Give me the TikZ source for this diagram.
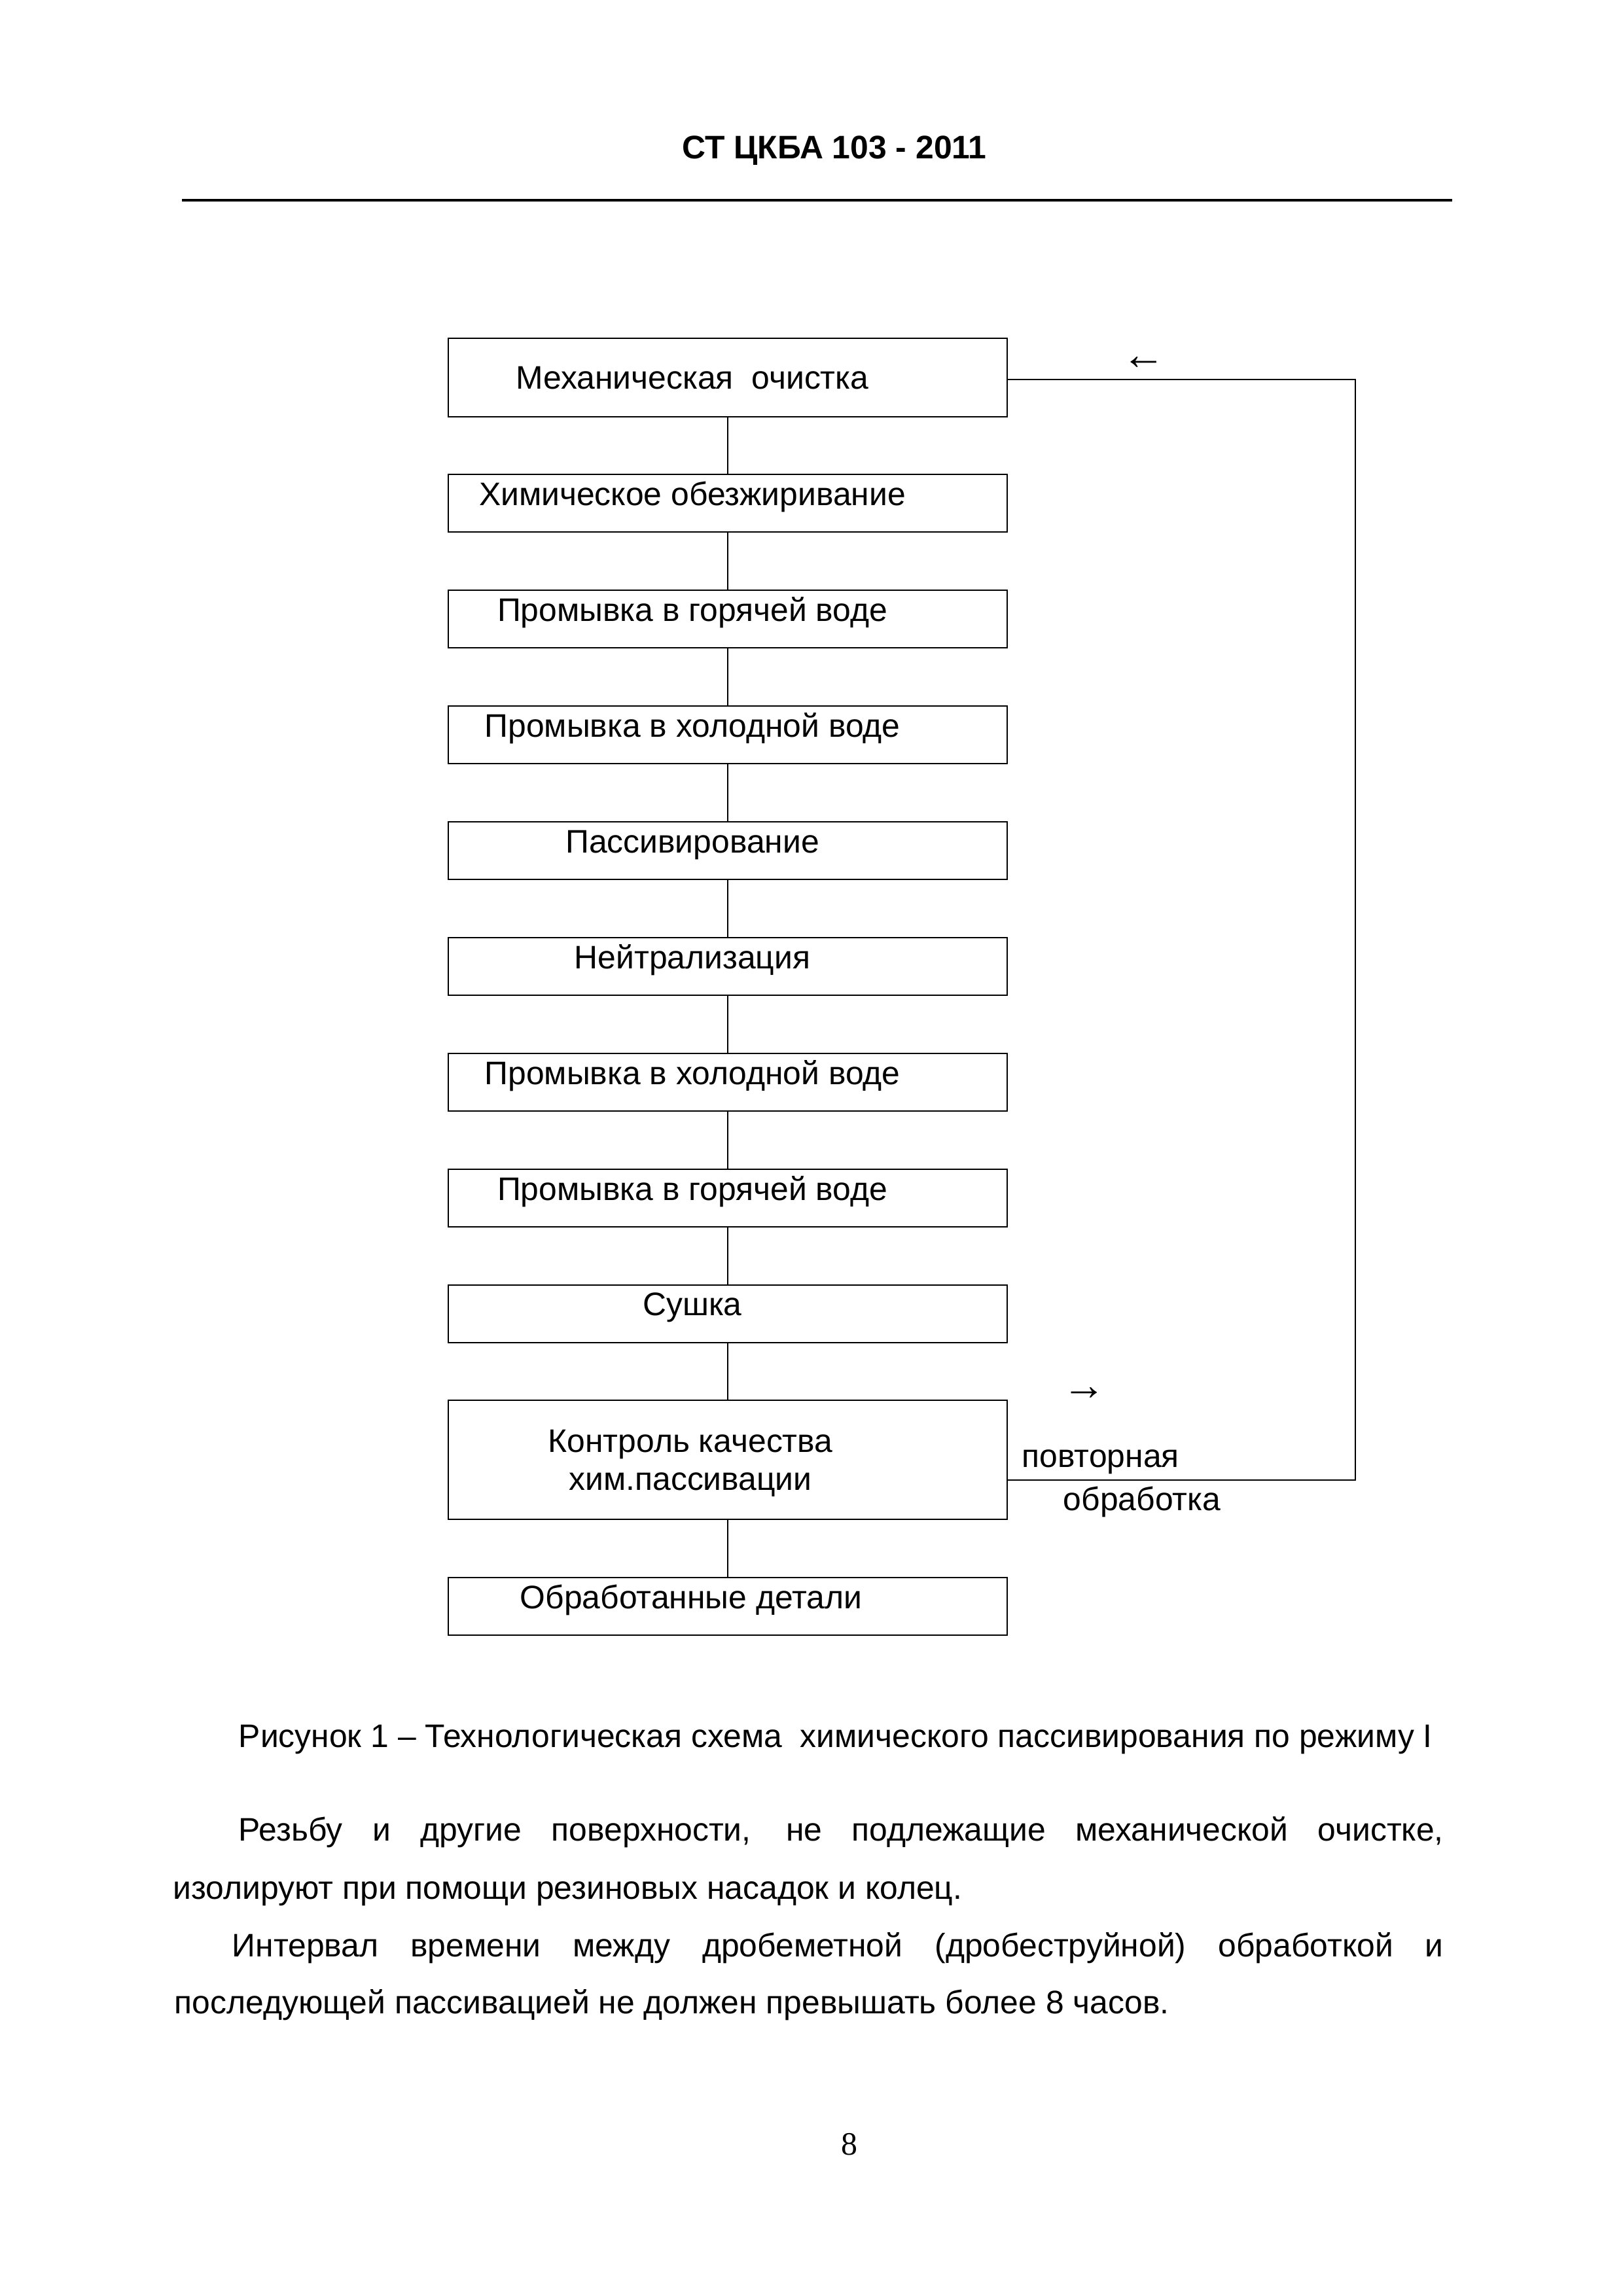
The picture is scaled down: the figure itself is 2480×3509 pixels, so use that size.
\documentclass[tikz,border=0pt]{standalone}
\usepackage{fontspec}
\setmainfont{Liberation Sans}
\newfontfamily\serifnum{Liberation Serif}
\newdimen\pxu \pxu=0.2409pt
\begin{document}
\begin{tikzpicture}[x=0.2409pt,y=-0.2409pt,
  box/.style={draw,line width=0.65pt,rectangle,inner sep=0pt,outer sep=0pt,minimum width=205.73pt,minimum height=21.2pt},
  txt/.style={anchor=base,inner sep=0pt,font=\fontsize{12}{14}\selectfont},
  ltxt/.style={anchor=base west,inner sep=0pt,font=\fontsize{12}{14}\selectfont},
  arrtxt/.style={inner sep=0pt,font=\fontsize{16}{18}\selectfont},
  conn/.style={line width=0.5pt}]
\useasboundingbox[fill=white] (0,0) rectangle (2480,3509);
% header
\node[txt,font=\fontsize{12}{14}\selectfont\bfseries] (hdr) at (1275,242) {СТ ЦКБА 103 - 2011};
\coordinate (r1) at (278,306);
\coordinate (r2) at (2219,306);
\draw[line width=1.2pt] (r1) -- (r2);
% boxes
\node[box,minimum height=28.9pt] (b1) at (1112,577) {};
\node[box] (b2) at (1112,769) {};
\node[box] (b3) at (1112,946) {};
\node[box] (b4) at (1112,1123) {};
\node[box] (b5) at (1112,1300) {};
\node[box] (b6) at (1112,1477) {};
\node[box] (b7) at (1112,1654) {};
\node[box] (b8) at (1112,1831) {};
\node[box] (b9) at (1112,2008) {};
\node[box,minimum height=43.84pt] (b10) at (1112,2231) {};
\node[box] (b11) at (1112,2455) {};
% box texts
\node[txt] (t1) at (1058,594) {Механическая\ \ очистка};
\node[txt] (t2) at (1058,772) {Химическое обезжиривание};
\node[txt] (t3) at (1058,949) {Промывка в горячей воде};
\node[txt] (t4) at (1058,1126) {Промывка в холодной воде};
\node[txt] (t5) at (1058,1303) {Пассивирование};
\node[txt] (t6) at (1058,1480) {Нейтрализация};
\node[txt] (t7) at (1058,1657) {Промывка в холодной воде};
\node[txt] (t8) at (1058,1834) {Промывка в горячей воде};
\node[txt] (t9) at (1058,2010) {Сушка};
\node[txt] (t10a) at (1055,2219) {Контроль качества};
\node[txt] (t10b) at (1055,2277) {хим.пассивации};
\node[txt] (t11) at (1056,2458) {Обработанные детали};
% connectors
\foreach \a/\b in {b1/b2,b2/b3,b3/b4,b4/b5,b5/b6,b6/b7,b7/b8,b8/b9,b9/b10,b10/b11}
  \draw[conn] (\a.south) -- (\b.north);
% feedback loop
\coordinate (fbtop) at (2071,580);
\coordinate (fbbot) at (2071,2262);
\coordinate (fbin) at (1539,2262);
\draw[conn] (b1.east |- fbtop) -- (fbtop) -- (fbbot) -- (fbin);
\node[arrtxt] (arrl) at (1748,555) {←};
\node[arrtxt] (arrr) at (1657,2130) {→};
\node[ltxt] (lp) at (1561,2242) {повторная};
\node[ltxt] (lo) at (1624,2308) {обработка};
% caption and body
\node[ltxt] (cap) at (364,2670) {Рисунок 1 – Технологическая схема\ \ химического пассивирования по режиму I};
\node[ltxt] (p1) at (364,2813) {\makebox[1841\pxu][s]{Резьбу и другие поверхности, не подлежащие механической очистке,}};
\node[ltxt] (p2) at (264,2902) {изолируют при помощи резиновых насадок и колец.};
\node[ltxt] (p3) at (354,2990) {\makebox[1851\pxu][s]{Интервал времени между дробеметной (дробеструйной) обработкой и}};
\node[ltxt] (p4) at (266,3077) {последующей пассивацией не должен превышать более 8 часов.};
\node[txt,font=\serifnum\fontsize{12}{14}\selectfont] (pg) at (1298,3293) {8};
\end{tikzpicture}
\end{document}
